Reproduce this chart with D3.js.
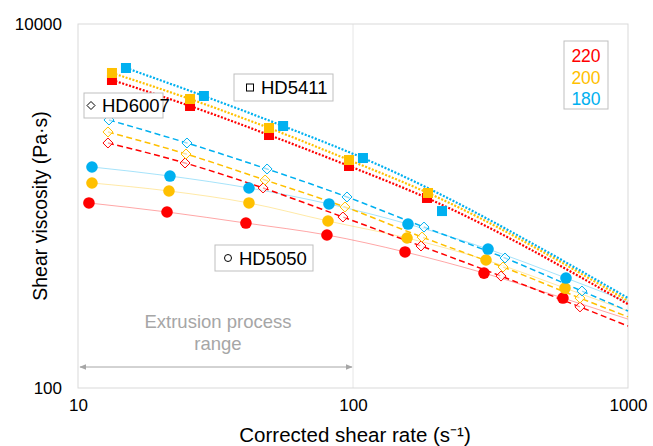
<!DOCTYPE html>
<html>
<head>
<meta charset="utf-8">
<script src="https://cdn.jsdelivr.net/npm/d3@7"></script>
<style>
  html, body { margin: 0; padding: 0; background: #fff; }
  svg { display: block; font-family: "Liberation Sans", Arial, sans-serif; }
</style>
</head>
<body>
<svg id="chart" width="653" height="446"></svg>
<script>
// ---------- DATA ----------
const temperatures = ["220", "200", "180"];

// HD5050 (circles, solid line)
const hd5050Rate220 = [10.96, 21.07, 40.8, 80.4, 154.6, 299.5, 580];
const hd5050Visc220 = [1039, 927, 806, 693, 559, 428, 312];
const hd5050Rate200 = [11.24, 21.42, 41.85, 81.1, 157.2, 304.5, 590];
const hd5050Visc200 = [1338, 1209, 1039, 827, 667, 505, 354];
const hd5050Rate180 = [11.24, 21.6, 41.85, 81.8, 158.5, 309.7, 595];
const hd5050Visc180 = [1638, 1461, 1256, 1026, 796, 580, 402];

// HD6007 (open diamonds, dashed line)
const hd6007Rate220 = [12.85, 24.5, 47.1, 91.9, 176.7, 345.3, 669];
const hd6007Visc220 = [2219, 1723, 1256, 870, 603, 412, 279];
const hd6007Rate200 = [12.85, 24.7, 47.9, 93.5, 178.2, 351.2, 669];
const hd6007Visc200 = [2551, 1931, 1389, 988, 675, 462, 312];
const hd6007Rate180 = [12.96, 24.9, 48.7, 95.1, 181.2, 357.1, 680];
const hd6007Visc180 = [2969, 2219, 1597, 1121, 766, 518, 341];

// HD5411 (squares, dotted line)
const hd5411Rate220 = [13.29, 25.55, 49.5, 96.7, 185.8];
const hd5411Visc220 = [4924, 3544, 2455, 1659, 1107];
const hd5411Rate200 = [13.29, 25.55, 49.5, 96.7, 187.4];
const hd5411Visc200 = [5381, 3871, 2683, 1789, 1179];
const hd5411Rate180 = [14.94, 28.7, 55.7, 108.7, 210.7];
const hd5411Visc180 = [5731, 4022, 2751, 1835, 938];

// trend-line values at 1000 s^-1 (order: 220, 200, 180)
const hd5050End = [239, 265, 297];
const hd6007End = [219, 246, 265];
const hd5411End = [289, 301, 312];
// points lying off their trend line (index into the series, per temperature)
const hd5411OffTrend = [[], [], [4]];

const xTicks = [10, 100, 1000];
const yTicks = [100, 10000];
const materialLabels = ["HD5411", "HD6007", "HD5050"];
const rangeLabel = ["Extrusion process", "range"];
const rangeBounds = [10, 100];

// ---------- STYLE ----------
const tempColors = { "220": "#FF0000", "200": "#FFC000", "180": "#00B0F0" };
const svg = d3.select("#chart");
const x = d3.scaleLog().domain([10, 1000]).range([78, 628]);
const y = d3.scaleLog().domain([100, 10000]).range([388, 24]);

// grid line at 100
svg.append("line").attr("x1", x(100)).attr("x2", x(100))
  .attr("y1", y(10000)).attr("y2", y(100))
  .attr("stroke", "#e6e6e6").attr("stroke-width", 1);

// plot border
svg.append("rect").attr("x", x(10)).attr("y", y(10000))
  .attr("width", x(1000) - x(10)).attr("height", y(100) - y(10000))
  .attr("fill", "none").attr("stroke", "#d9d9d9").attr("stroke-width", 1);

// axes (labels only)
const xAxis = d3.axisBottom(x).tickValues(xTicks).tickFormat(d3.format("d")).tickSize(0).tickPadding(11);
const gx = svg.append("g").attr("transform", `translate(0,${y(100)})`).call(xAxis);
gx.select(".domain").remove();
gx.selectAll("text").attr("font-size", 17).attr("fill", "#000")
  .attr("font-family", "Liberation Sans, Arial, sans-serif");

const yAxis = d3.axisLeft(y).tickValues(yTicks).tickFormat(d3.format("d")).tickSize(0).tickPadding(16);
const gy = svg.append("g").attr("transform", `translate(${x(10)},0)`).call(yAxis);
gy.select(".domain").remove();
gy.selectAll("text").attr("font-size", 17).attr("fill", "#000")
  .attr("font-family", "Liberation Sans, Arial, sans-serif");

// axis titles
svg.append("text").attr("x", 355).attr("y", 442).attr("text-anchor", "middle")
  .attr("font-size", 20.5).attr("fill", "#000").text("Corrected shear rate (s\u207B\u00B9)");
svg.append("text").attr("transform", `translate(47,${(y(10000) + y(100)) / 2}) rotate(-90)`)
  .attr("text-anchor", "middle").attr("font-size", 19.5).attr("fill", "#000")
  .text("Shear viscosity (Pa\u00B7s)");

// extrusion range
svg.append("defs").html(`
  <marker id="arr" viewBox="0 0 10 10" refX="9" refY="5" markerWidth="7" markerHeight="7" orient="auto-start-reverse">
    <path d="M0,1 L10,5 L0,9 z" fill="#a6a6a6"/>
  </marker>`);
svg.append("line").attr("x1", x(rangeBounds[0]) + 2).attr("x2", x(rangeBounds[1]) - 1)
  .attr("y1", 367).attr("y2", 367).attr("stroke", "#a6a6a6").attr("stroke-width", 1)
  .attr("marker-start", "url(#arr)").attr("marker-end", "url(#arr)");
svg.append("text").attr("x", 218).attr("y", 328).attr("text-anchor", "middle")
  .attr("font-size", 18.5).attr("fill", "#a6a6a6").text(rangeLabel[0]);
svg.append("text").attr("x", 218).attr("y", 350).attr("text-anchor", "middle")
  .attr("font-size", 18.5).attr("fill", "#a6a6a6").text(rangeLabel[1]);

// series assembly
function mk(rate, visc) { return rate.map((r, i) => ({ r, v: visc[i], i })); }
const sets = {
  hd5050: [mk(hd5050Rate220, hd5050Visc220), mk(hd5050Rate200, hd5050Visc200), mk(hd5050Rate180, hd5050Visc180)],
  hd6007: [mk(hd6007Rate220, hd6007Visc220), mk(hd6007Rate200, hd6007Visc200), mk(hd6007Rate180, hd6007Visc180)],
  hd5411: [mk(hd5411Rate220, hd5411Visc220), mk(hd5411Rate200, hd5411Visc200), mk(hd5411Rate180, hd5411Visc180)]
};
const ends = { hd5050: hd5050End, hd6007: hd6007End, hd5411: hd5411End };
const offTrend = { hd5050: [[], [], []], hd6007: [[], [], []], hd5411: hd5411OffTrend };
const line = d3.line().x(d => x(d.r)).y(d => y(d.v)).curve(d3.curveMonotoneX);

const lineStyle = {
  hd5050: { w: 1, dash: null, op: 0.35 },
  hd6007: { w: 1.5, dash: "6,3.5", op: 1 },
  hd5411: { w: 2.2, dash: "2,1.6", op: 1 }
};

const gLines = svg.append("g");
["hd5050", "hd6007", "hd5411"].forEach(key => {
  sets[key].forEach((pts, i) => {
    const t = temperatures[i];
    const skip = offTrend[key][i];
    const all = pts.filter(p => !skip.includes(p.i)).concat([{ r: 1000, v: ends[key][i] }]);
    const st = lineStyle[key];
    gLines.append("path").attr("d", line(all)).attr("fill", "none")
      .attr("stroke", tempColors[t]).attr("stroke-width", st.w)
      .attr("stroke-opacity", st.op)
      .attr("stroke-dasharray", st.dash);
  });
});

// markers
const gM = svg.append("g");
sets.hd5050.forEach((pts, i) => {
  const c = tempColors[temperatures[i]];
  gM.selectAll(null).data(pts).enter().append("circle")
    .attr("cx", d => x(d.r)).attr("cy", d => y(d.v)).attr("r", 5.8).attr("fill", c);
});
sets.hd6007.forEach((pts, i) => {
  const c = tempColors[temperatures[i]];
  gM.selectAll(null).data(pts).enter().append("path")
    .attr("transform", d => `translate(${x(d.r)},${y(d.v)})`)
    .attr("d", "M0,-5 L5,0 L0,5 L-5,0 Z").attr("fill", "#fff").attr("fill-opacity", 0.6)
    .attr("stroke", c).attr("stroke-width", 1);
});
sets.hd5411.forEach((pts, i) => {
  const c = tempColors[temperatures[i]];
  gM.selectAll(null).data(pts).enter().append("rect")
    .attr("x", d => x(d.r) - 5).attr("y", d => y(d.v) - 5)
    .attr("width", 10).attr("height", 10).attr("fill", c);
});

// material label boxes
function labelBox(bx, by, bw, bh, sym, symDx, txt) {
  const g = svg.append("g");
  g.append("rect").attr("x", bx).attr("y", by).attr("width", bw).attr("height", bh)
    .attr("fill", "#fff").attr("stroke", "#bfbfbf").attr("stroke-width", 1);
  const sx = bx + symDx, sy = by + bh / 2;
  if (sym === "square") g.append("rect").attr("x", sx - 3.5).attr("y", sy - 3.5).attr("width", 7).attr("height", 7)
    .attr("fill", "none").attr("stroke", "#000").attr("stroke-width", 1);
  if (sym === "diamond") g.append("path").attr("d", `M${sx},${sy - 4} L${sx + 4},${sy} L${sx},${sy + 4} L${sx - 4},${sy} Z`)
    .attr("fill", "none").attr("stroke", "#000").attr("stroke-width", 1);
  if (sym === "circle") g.append("circle").attr("cx", sx).attr("cy", sy).attr("r", 3.5)
    .attr("fill", "none").attr("stroke", "#000").attr("stroke-width", 1);
  g.append("text").attr("x", sx + 11).attr("y", sy + 6.5).attr("font-size", 18.5).attr("fill", "#000").text(txt);
}
labelBox(234, 74, 99, 27, "square", 16, materialLabels[0]);
labelBox(84, 93, 79, 25, "diamond", 7, materialLabels[1]);
labelBox(215, 245, 98, 26, "circle", 13, materialLabels[2]);

// temperature legend
svg.append("rect").attr("x", 564).attr("y", 41).attr("width", 44).attr("height", 68)
  .attr("fill", "#fff").attr("stroke", "#bfbfbf").attr("stroke-width", 1);
temperatures.forEach((t, i) => {
  svg.append("text").attr("x", 586).attr("y", 62 + i * 21.5).attr("text-anchor", "middle")
    .attr("font-size", 17.5).attr("fill", tempColors[t]).text(t);
});
</script>
</body>
</html>
